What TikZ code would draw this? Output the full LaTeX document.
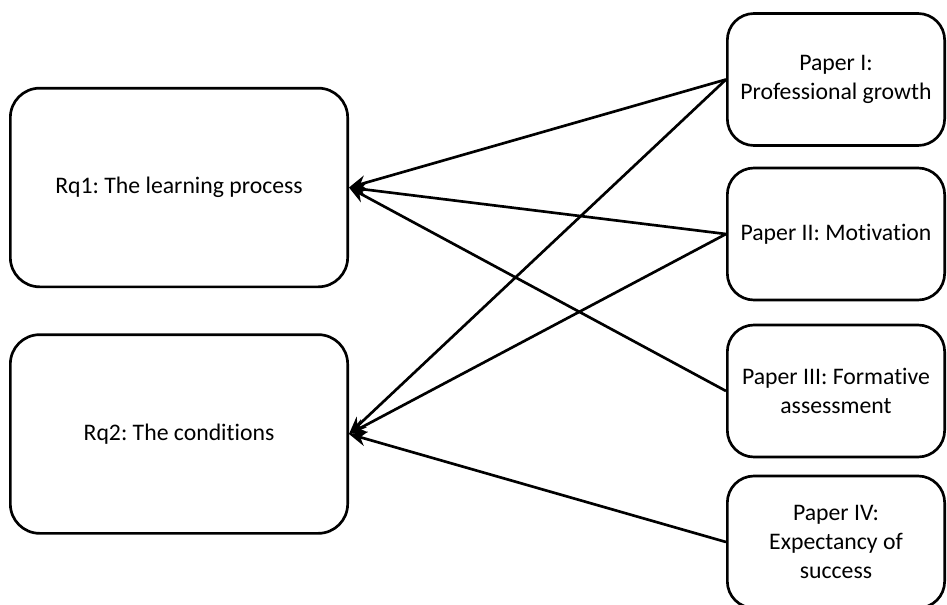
\documentclass[tikz,border=0pt]{standalone}
\usepackage{fontspec}
\setmainfont[Ligatures=NoCommon]{Carlito}
\frenchspacing
\usetikzlibrary{arrows.meta}
\tikzset{
    rq/.style={draw, line width=2pt, rounded corners=22pt, minimum width=253pt, minimum height=149pt, align=center, font=\fontsize{17.8}{22}\selectfont},
    paper/.style={draw, line width=2pt, rounded corners=20pt, minimum width=163pt, minimum height=99pt, align=center, font=\fontsize{17.8}{22}\selectfont},
    link/.style={-{Stealth[length=13pt, width=11pt]}, line width=2pt}
}
\begin{document}
\begin{tikzpicture}[x=0.75pt, y=-0.75pt]
    \useasboundingbox (0,0) rectangle (947,604);
    \node[rq] (R1) at (179, 187.5) {Rq1: The learning process};
    \node[rq] (R2) at (179, 434) {Rq2: The conditions};
    \node[paper] (P1) at (836, 79.5) {Paper I:\\Professional growth};
    \node[paper] (P2) at (836, 234) {Paper II: Motivation};
    \node[paper] (P3) at (836, 391) {Paper III: Formative\\assessment};
    \node[paper] (P4) at (836, 542) {Paper IV:\\Expectancy of\\success};
    \draw[link] (P1.west) to (R1.east);
    \draw[link] (P1.west) to (R2.east);
    \draw[link] (P2.west) to (R1.east);
    \draw[link] (P2.west) to (R2.east);
    \draw[link] (P3.west) to (R1.east);
    \draw[link] (P4.west) to (R2.east);
\end{tikzpicture}
\end{document}
